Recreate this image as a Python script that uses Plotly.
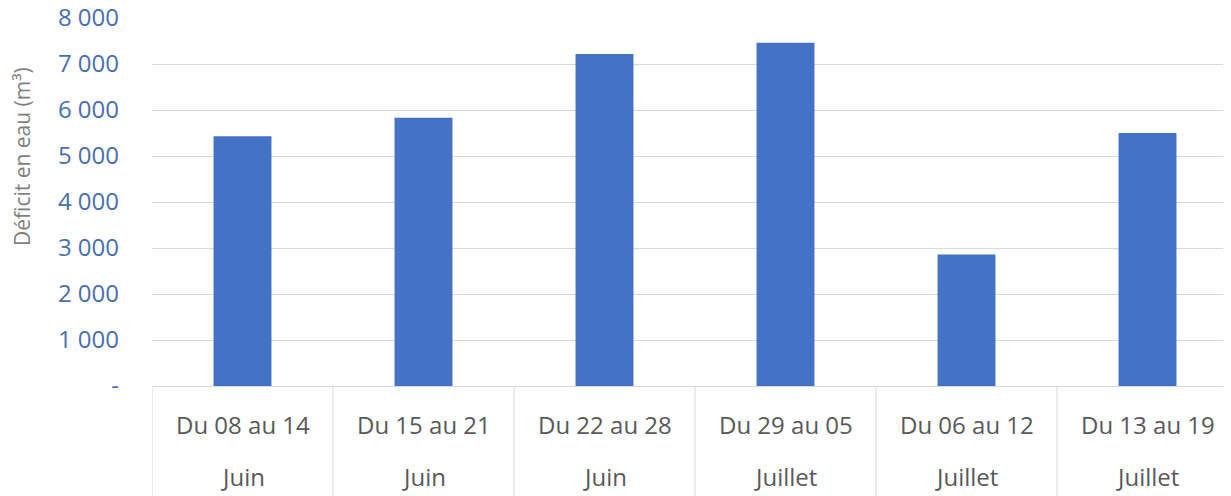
import plotly.graph_objects as go

weeks = ["Du 08 au 14", "Du 15 au 21", "Du 22 au 28", "Du 29 au 05", "Du 06 au 12", "Du 13 au 19"]
months = ["Juin", "Juin", "Juin", "Juillet", "Juillet", "Juillet"]
deficit = [5430, 5830, 7220, 7460, 2860, 5500]
tick_vals = [0, 1000, 2000, 3000, 4000, 5000, 6000, 7000, 8000]
tick_text = ["-", "1 000", "2 000", "3 000", "4 000", "5 000", "6 000", "7 000", "8 000"]

OFF = 8  # body margin of the page
W, H = 1231 - OFF, 496 - OFF
ML, MT, MB = 152 - OFF, 18 - OFF, 110
plot_h = H - MT - MB
plot_w = W - ML
CAT_W = 181.0

xs = list(range(len(weeks)))
fig = go.Figure(go.Bar(x=xs, y=deficit, marker=dict(color="#4472C4", line=dict(width=0)), width=0.32))

font_family = "Open Sans, Liberation Sans, sans-serif"
annotations = []
for i, (w, m) in enumerate(zip(weeks, months)):
    annotations.append(dict(x=i, y=0, xref="x", yref="paper", text=w, showarrow=False,
                            yanchor="middle", yshift=-38, font=dict(size=24, color="#595959", family=font_family)))
    annotations.append(dict(x=i, y=0, xref="x", yref="paper", text=m, showarrow=False,
                            yanchor="middle", yshift=-90, font=dict(size=24, color="#595959", family=font_family)))
title_x_px, title_y_px = 22 - OFF, 157 - OFF
annotations.append(dict(x=(title_x_px - ML) / plot_w, y=(MT + plot_h - title_y_px) / plot_h,
                        xref="paper", yref="paper", text="Déficit en eau (m³)", xanchor="center",
                        yanchor="middle", showarrow=False, textangle=-90,
                        font=dict(size=21, color="#7f7f7f", family=font_family)))

shapes = []
for i in range(len(weeks) + 1):
    shapes.append(dict(type="line", xref="x", yref="paper", x0=i - 0.5, x1=i - 0.5,
                       y0=0, y1=-MB / plot_h, line=dict(color="#d9d9d9", width=1)))

fig.update_layout(
    width=W, height=H,
    margin=dict(l=ML, r=0, t=MT, b=MB, autoexpand=False),
    plot_bgcolor="white", paper_bgcolor="white",
    showlegend=False,
    annotations=annotations,
    shapes=shapes,
    font=dict(family=font_family),
    xaxis=dict(range=[-0.5, -0.5 + plot_w / CAT_W], showticklabels=False, showgrid=False,
               zeroline=False, showline=True, linecolor="#d9d9d9", linewidth=1, ticks="",
               automargin=False),
    yaxis=dict(range=[0, 8000], tickvals=tick_vals, ticktext=tick_text, showgrid=True,
               gridcolor="#d9d9d9", gridwidth=1, zeroline=False, showline=False,
               ticklabeloverflow="allow", automargin=False,
               tickfont=dict(size=24, color="#4a6fad", family=font_family), ticklabelstandoff=32),
)

fig.write_html("out.html")
